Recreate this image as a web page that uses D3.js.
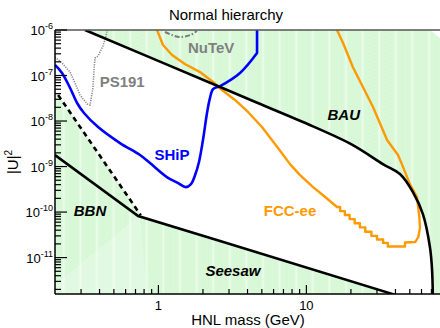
<!DOCTYPE html>
<html><head><meta charset="utf-8">
<script src="https://cdn.jsdelivr.net/npm/d3@7"></script>
<style>body{margin:0;background:#fff}svg{display:block}text{font-family:"Liberation Sans",Arial,Helvetica,sans-serif}</style>
</head><body><svg id="c" width="440" height="328"></svg>
<script>
const xDomain = [0.2, 80];
const yDomain = [Math.pow(10, -11.8), 1e-6];
const xMajorTicks = [1, 10];
const xMinorTicks = [0.3,0.4,0.5,0.6,0.7,0.8,0.9,2,3,4,5,6,7,8,9,20,30,40,50,60,70];
const yMajorExps = [-6, -7, -8, -9, -10, -11];

// BAU upper bound (black solid)
const bau = [[0.319,1e-6],[2.61,5.58e-8],[4.36,2.75e-8],[9.48,9.5e-9],[20.6,2.97e-9],[32.9,1.13e-9],[42.9,6.84e-10],[52.5,2.75e-10],[61.3,9.0e-11],[68.4,1.7e-11],[70.7,5.4e-12],[71.6,1.2e-12]];
// BBN + Seesaw lower bound (black solid)
const seesaw = [[0.2,1.79e-9],[0.73,8.2e-11],[2.61,2.31e-11],[38.4,1.58e-12],[45,1.1e-12]];
// BBN dashed
const bbnDashed = [[0.21,3.73e-8],[0.76,8.5e-11]];
// SHiP (blue)
const ship = [[0.2,1.70e-7],[0.223,1.14e-7],[0.253,5.31e-8],[0.282,2.49e-8],[0.314,1.50e-8],[0.391,7.38e-9],[0.55,3.28e-9],[0.751,1.79e-9],[0.877,1.19e-9],[1.14,5.88e-10],[1.36,4.34e-10],[1.53,3.54e-10],[1.66,4.12e-10],[1.77,6.5e-10],[1.88,1.26e-9],[2.0,3.82e-9],[2.13,1.5e-8],[2.23,3.2e-8],[2.34,5.05e-8],[2.61,5.87e-8],[3.56,1.14e-7],[4.64,3.13e-7],[4.64,1e-6]];
// FCC-ee (orange)
const fcc = [[0.978,1e-6],[1.074,4.68e-7],[1.236,2.82e-7],[1.51,1.79e-7],[1.91,1.19e-7],[2.34,7.2e-8],[2.69,4.8e-8],[3.29,2.9e-8],[4.03,1.58e-8],[5.01,7.38e-9],[6.43,2.55e-9],[7.75,1.13e-9],[9.06,6.5e-10],[11.1,3.54e-10],[13.4,2.14e-10],[16.1,1.29e-10],[16.9,1.29e-10],[16.9,1.05e-10],[18.2,1.05e-10],[18.2,8.6e-11],[19.6,8.6e-11],[19.6,7.0e-11],[21.2,7.0e-11],[21.2,5.7e-11],[23.0,5.7e-11],[23.0,4.6e-11],[25.0,4.6e-11],[25.0,3.7e-11],[27.5,3.7e-11],[27.5,3.0e-11],[30.0,3.0e-11],[30.0,2.5e-11],[33.0,2.5e-11],[33.0,2.1e-11],[35.5,2.1e-11],[35.5,1.75e-11],[46.4,1.75e-11],[46.4,2.15e-11],[54.5,2.2e-11],[57.0,2.8e-11],[58.6,4.5e-11],[58.0,7.8e-11],[55.9,2.14e-10],[50.1,4.12e-10],[44.2,1.13e-9],[41.6,1.79e-9],[35.1,3.82e-9],[28.2,2.03e-8],[24.1,5.58e-8],[20.6,1.54e-7],[17.7,5.18e-7],[16.1,1e-6]];
// PS191 (gray dotted)
const ps191 = [[0.2,2.55e-7],[0.223,1.88e-7],[0.253,1.19e-7],[0.273,6.84e-8],[0.295,3.73e-8],[0.33,2.37e-8],[0.345,2.25e-8],[0.361,5.31e-8],[0.367,1.32e-7],[0.373,2.43e-7],[0.391,2.68e-7],[0.422,4.45e-7],[0.443,7.38e-7],[0.45,1e-6]];
// NuTeV (gray dash-dot)
const nutev = [[1.108,9.04e-7],[1.236,7.76e-7],[1.40,7.02e-7],[1.64,7.76e-7],[1.82,9.5e-7]];

const labels = [
  {t:"NuTeV", m:2.27, u:3.13e-7, c:"#808080", i:false},
  {t:"PS191", m:0.569, u:5.58e-8, c:"#808080", i:false},
  {t:"SHiP", m:1.236, u:1.39e-9, c:"#0000ff", i:false},
  {t:"BAU", m:17.9, u:1.05e-8, c:"#000", i:true},
  {t:"FCC-ee", m:7.75, u:8.17e-11, c:"#ff9900", i:false},
  {t:"BBN", m:0.345, u:8.17e-11, c:"#000", i:true},
  {t:"Seesaw", m:3.19, u:3.92e-12, c:"#000", i:true}
];

const L=55, R=440, T=30, B=294;
const svg = d3.select("#c");
const x = d3.scaleLog().domain(xDomain).range([L,R]);
const y = d3.scaleLog().domain(yDomain).range([B,T]);
const line = d3.line().x(d=>x(d[0])).y(d=>y(d[1]));
const smooth = d3.line().x(d=>x(d[0])).y(d=>y(d[1])).curve(d3.curveCatmullRom.alpha(0.5));
const pt = d => x(d[0]) + "," + y(d[1]);

const defs = svg.append("defs");
defs.append("clipPath").attr("id","plot").append("rect").attr("x",L).attr("y",T).attr("width",R-L).attr("height",B-T);
const pat = defs.append("pattern").attr("id","hatch").attr("patternUnits","userSpaceOnUse").attr("width",16.6).attr("height",4);
pat.append("rect").attr("width",16.6).attr("height",4).attr("fill","#d8f8d8");
pat.append("rect").attr("x",13).attr("width",2).attr("height",4).attr("fill","#ecfcec");
pat.append("rect").attr("x",4).attr("y",1).attr("width",1).attr("height",1).attr("fill","#cff4cf");
pat.append("rect").attr("x",9).attr("y",3).attr("width",1).attr("height",1).attr("fill","#cff4cf");

const g = svg.append("g").attr("clip-path","url(#plot)");

g.append("path").attr("d", smooth(bau) + "L" + [[xDomain[1],1e-13],[xDomain[1],6.67e-7],[68.4,1e-6]].map(pt).join("L") + "Z").attr("fill","url(#hatch)");
const lowerPoly = [[0.19,3.73e-8]].concat(bbnDashed, seesaw.slice(2), [[0.19,1e-13]]);
g.append("path").attr("d", line(lowerPoly)+"Z").attr("fill","url(#hatch)");
g.append("path").attr("d", line([[0.19,1e-13],[0.19,2.2e-12],[0.75,8.6e-11],[0.9,1e-13]])+"Z").attr("fill","#fff").attr("opacity",0.22);

g.append("path").attr("d",smooth(nutev)).attr("fill","none").attr("stroke","#7a7a7a").attr("stroke-width",2).attr("stroke-dasharray","5,2,1.5,2");
g.append("path").attr("d",line(ps191)).attr("fill","none").attr("stroke","#888").attr("stroke-width",1.6).attr("stroke-dasharray","1.2,1.2");
g.append("path").attr("d",line(fcc)).attr("fill","none").attr("stroke","#ff9900").attr("stroke-width",2.4).attr("stroke-linejoin","round");
g.append("path").attr("d",smooth(ship.slice(0,-1)) + "L" + pt(ship[ship.length-1])).attr("fill","none").attr("stroke","#0000ff").attr("stroke-width",2.6).attr("stroke-linejoin","round");
g.append("path").attr("d",line(bbnDashed)).attr("fill","none").attr("stroke","#000").attr("stroke-width",2.6).attr("stroke-dasharray","5,4");
g.append("path").attr("d",line(seesaw)).attr("fill","none").attr("stroke","#000").attr("stroke-width",2.6);
g.append("path").attr("d",smooth(bau)).attr("fill","none").attr("stroke","#000").attr("stroke-width",2.6);

svg.append("line").attr("x1",L).attr("x2",R).attr("y1",T).attr("y2",T).attr("stroke","#555").attr("stroke-width",1.5);
svg.append("line").attr("x1",L).attr("x2",L).attr("y1",T).attr("y2",B).attr("stroke","#000").attr("stroke-width",1.5);
svg.append("line").attr("x1",L).attr("x2",R).attr("y1",B).attr("y2",B).attr("stroke","#000").attr("stroke-width",1.5);

xMajorTicks.forEach(v=>{
  svg.append("line").attr("x1",x(v)).attr("x2",x(v)).attr("y1",B).attr("y2",B-9).attr("stroke","#000").attr("stroke-width",1.2);
  svg.append("text").attr("x",x(v)).attr("y",310).attr("text-anchor","middle").attr("font-size",13).text(v);
});
xMinorTicks.forEach(v=>{
  svg.append("line").attr("x1",x(v)).attr("x2",x(v)).attr("y1",B).attr("y2",B-5).attr("stroke","#000").attr("stroke-width",1.2);
});
for (let e=-12; e<=-6; e++) {
  for (let k=1; k<10; k++) {
    const v = k*Math.pow(10,e);
    if (v < yDomain[0]*0.999 || v > yDomain[1]*1.001) continue;
    svg.append("line").attr("x1",L).attr("x2",L+(k===1?12:6)).attr("y1",y(v)).attr("y2",y(v)).attr("stroke","#000").attr("stroke-width",1.2);
  }
}
yMajorExps.forEach(e=>{
  const t = svg.append("text").attr("x",53).attr("y",y(Math.pow(10,e))+5).attr("text-anchor","end").attr("font-size",13);
  t.append("tspan").text("10");
  t.append("tspan").attr("dy",-6).attr("font-size",9).text(String(e));
});

labels.forEach(l=>{
  svg.append("text").attr("x",x(l.m)).attr("y",y(l.u)).attr("text-anchor","middle")
    .attr("font-size",15).attr("font-weight","bold").attr("font-style",l.i?"italic":"normal")
    .attr("fill",l.c).text(l.t);
});

svg.append("text").attr("x",226).attr("y",20).attr("text-anchor","middle").attr("font-size",15).text("Normal hierarchy");
svg.append("text").attr("x",248).attr("y",325).attr("text-anchor","middle").attr("font-size",15).text("HNL mass (GeV)");
const yl = svg.append("text").attr("transform","translate(18,162) rotate(-90)").attr("text-anchor","middle").attr("font-size",15);
yl.append("tspan").text("|U|");
yl.append("tspan").attr("dy",-6).attr("font-size",10).text("2");
</script></body></html>
